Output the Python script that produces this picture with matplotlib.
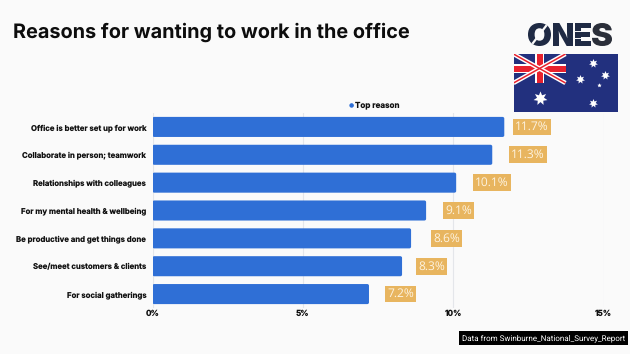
import matplotlib
matplotlib.use('Agg')
import matplotlib.pyplot as plt
from matplotlib.font_manager import FontProperties
from matplotlib.patches import FancyBboxPatch, PathPatch, Rectangle
from matplotlib.textpath import TextPath
from matplotlib.transforms import Affine2D

plt.rcParams['font.family'] = ['Inter', 'DejaVu Sans']
plt.rcParams['text.hinting'] = 'none'
plt.rcParams['text.hinting_factor'] = 1

# data
reasons = ['Office is better set up for work', 'Collaborate in person; teamwork',
           'Relationships with colleagues', 'For my mental health & wellbeing',
           'Be productive and get things done', 'See/meet customers & clients',
           'For social gatherings']
values = [11.7, 11.3, 10.1, 9.1, 8.6, 8.3, 7.2]
ticks = [0, 5, 10, 15]

# gap in pixels between bar end and its label box, uneven in the original
label_gaps = [8.5, 16.5, 16.5, 16.5, 19.5, 13.5, 15.5]

BG = '#fafafa'
BLUE = '#2f6fd6'
TAN = '#e8b55f'
NAVY = '#22307e'
RED = '#e8212e'

W, H = 630, 354
fig = plt.figure(figsize=(6.3, 3.54), dpi=100, facecolor=BG)


def pixel_axes(x0, y0, x1, y1):
    # axes placed with picture pixels, y counted from the top
    return fig.add_axes([x0 / W, 1 - y1 / H, (x1 - x0) / W, (y1 - y0) / H])


ax = pixel_axes(152.5, 113, 603.5, 308)
ax.set_facecolor(BG)
ax.set_xlim(0, 15)
ax.set_ylim(len(values) - 0.5, -0.5)
for s in ax.spines.values():
    s.set_visible(False)
ax.grid(axis='x', color='#e4e6ea', lw=0.8)
ax.set_axisbelow(True)
ax.tick_params(length=0)
ax.set_xticks(ticks)
ax.set_xticklabels([f'{t}%' for t in ticks], fontsize=5.9, fontweight='bold', color='#111111')
ax.tick_params(axis='x', pad=1.5)
ax.set_yticks(range(len(reasons)))
ax.set_yticklabels(reasons, fontsize=5.6, fontweight='bold', color='#111111')
ax.tick_params(axis='y', pad=4.5)

for i, v in enumerate(values):
    ax.add_patch(FancyBboxPatch((0, i - 0.36), v, 0.72, boxstyle='round,pad=0,rounding_size=0.06',
                                fc=BLUE, ec='none', zorder=2))
    ax.annotate(f'{v}%', (v, i), xytext=((label_gaps[i] + 2.5) * 0.72, 0), textcoords='offset points',
                ha='left', va='center', fontsize=8.5, color='#fdf3e0',
                family=['Open Sans', 'DejaVu Sans'], zorder=4,
                bbox=dict(boxstyle='square,pad=0.2', fc=TAN, ec='none'))

# legend
fig.text(348.5 / W, 1 - 105.5 / H, '\u25cf', fontsize=4.5, color=BLUE, va='center', ha='left',
         family=['DejaVu Sans'])
fig.text(355 / W, 1 - 105.5 / H, 'Top reason', fontsize=5.8, fontweight='bold', color='#111111',
         va='center', ha='left')

fig.text(13 / W, 1 - 32 / H, 'Reasons for wanting to work in the office', fontsize=14.3,
         fontweight='bold', color='#0d0d0d', va='center', ha='left')

# logo: wide heavy letters stretched into the box of the original
lg = pixel_axes(528, 23, 612, 46)
lg.set_xlim(0, 84)
lg.set_ylim(23, 0)
lg.axis('off')
logo_font = FontProperties(family='Inter', weight='black')
for letter, x0, x1, col in [('O', 0, 23, '#1f2a44'), ('N', 25, 45, '#1f2a44'),
                            ('E', 47, 63, '#1f2a44'), ('S', 64, 84, '#2b2f3a')]:
    tp = TextPath((0, 0), letter, size=20, prop=logo_font)
    bb = tp.get_extents()
    tr = (Affine2D().translate(-bb.x0, -bb.y0)
          .scale((x1 - x0) / bb.width, -23 / bb.height)
          .translate(x0, 23))
    lg.add_patch(PathPatch(tr.transform_path(tp), fc=col, ec='none'))
lg.plot([5, 18], [20, 3], color=BG, lw=1.6)
lg.plot([47, 63], [8, 8], color=BG, lw=0.7)
lg.plot([47, 63], [15, 15], color=BG, lw=0.7)

# flag, drawn in its own axes in picture pixels
fl = pixel_axes(513.5, 54, 617.5, 112)
fl.set_xlim(0, 104)
fl.set_ylim(58, 0)
fl.axis('off')
fl.add_patch(Rectangle((0, 0), 104, 58, fc=NAVY, ec='none'))
fl.plot([0, 52], [0, 29], color='white', lw=3.2, solid_capstyle='butt')
fl.plot([0, 52], [29, 0], color='white', lw=3.2, solid_capstyle='butt')
fl.plot([0, 52], [0, 29], color=RED, lw=1.1, solid_capstyle='butt')
fl.plot([0, 52], [29, 0], color=RED, lw=1.1, solid_capstyle='butt')
fl.add_patch(Rectangle((21.5, 0), 9, 29, fc='white', ec='none'))
fl.add_patch(Rectangle((0, 10), 52, 9, fc='white', ec='none'))
fl.add_patch(Rectangle((23, 0), 6, 29, fc=RED, ec='none'))
fl.add_patch(Rectangle((0, 11.5), 52, 6, fc=RED, ec='none'))
fl.scatter([26], [44], marker=(7, 1, 0), s=105, c='white', linewidths=0)
fl.scatter([79.5, 66.5, 91, 79.5], [9, 25, 21, 49], marker=(7, 1, 0), s=42, c='white', linewidths=0)
fl.scatter([85], [31], marker=(5, 1, 0), s=10, c='white', linewidths=0)

# source tag
fig.text(462 / W, 1 - 338 / H, 'Data from Swinburne_National_Survey_Report', fontsize=5.5,
         color='white', va='center', ha='left', family=['Roboto', 'DejaVu Sans'],
         bbox=dict(boxstyle='square,pad=0.42', fc='black', ec='none'))

fig.savefig('out.png', dpi=100, facecolor=BG)
